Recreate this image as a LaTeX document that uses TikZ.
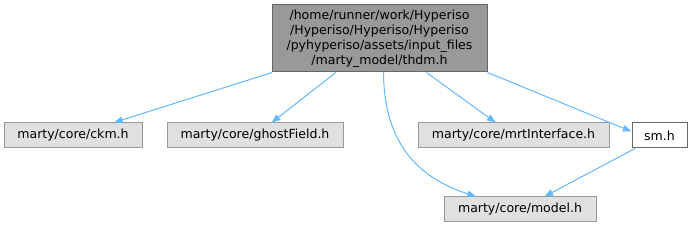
\documentclass[tikz,border=0pt]{standalone}
\usepackage{fontspec}
\setmainfont{DejaVu Sans}
\usepackage{tikz}
\usetikzlibrary{arrows.meta,positioning,calc}
\usepackage{xcolor}
\definecolor{dgInk}{HTML}{000000}
\definecolor{dgMainFill}{HTML}{999999}
\definecolor{dgMainLine}{HTML}{666666}
\definecolor{dgBoxFill}{HTML}{E0E0E0}
\definecolor{dgBoxLine}{HTML}{999999}
\definecolor{dgEdge}{HTML}{63B8FF}
\tikzset{
  hdr/.style={draw=dgBoxLine, fill=dgBoxFill, line width=0.75pt, minimum height=18.75pt, inner sep=0pt, font=\fontsize{9.4}{11.25}\selectfont, text=dgInk, align=center},
  hdrM/.style={hdr, fill=dgMainFill, draw=dgMainLine, minimum height=50.25pt, minimum width=161.25pt},
  hdrW/.style={hdr, fill=white, draw=dgMainLine},
  inc/.style={-{Triangle[length=6.5pt, width=5pt]}, line width=0.75pt, draw=dgEdge},
}
\begin{document}
\begin{tikzpicture}[x=0.75pt, y=-0.75pt]
  \useasboundingbox (0,0) rectangle (693,227);
  % header files
  \node[hdrM] (thdm) at (379.5,38.5) {/home/runner/work/Hyperiso\\/Hyperiso/Hyperiso/Hyperiso\\/pyhyperiso/assets/input\_files\\/marty\_model/thdm.h};
  \node[hdr, minimum width=103.5pt] (ckm) at (73,135.5) {marty/core/ckm.h};
  \node[hdr, minimum width=132pt] (ghost) at (255,135.5) {marty/core/ghostField.h};
  \node[hdr, minimum width=143.25pt] (mrt) at (513.5,135.5) {marty/core/mrtInterface.h};
  \node[hdrW, minimum width=41.25pt] (sm) at (659.5,135.5) {sm.h};
  \node[hdr, minimum width=114pt] (model) at (520,209.5) {marty/core/model.h};
  % includes
  \draw[inc] (thdm) -- (ckm);
  \draw[inc] (thdm) -- (ghost);
  \draw[inc] ([xshift=3pt]thdm.south) .. controls (384,150) and (425,180) .. ([xshift=-33pt]model.north);
  \draw[inc] (thdm) -- (mrt);
  \draw[inc] (thdm.south east) -- ([yshift=3pt]sm.west);
  \draw[inc] (sm) -- (model);
\end{tikzpicture}
\end{document}
